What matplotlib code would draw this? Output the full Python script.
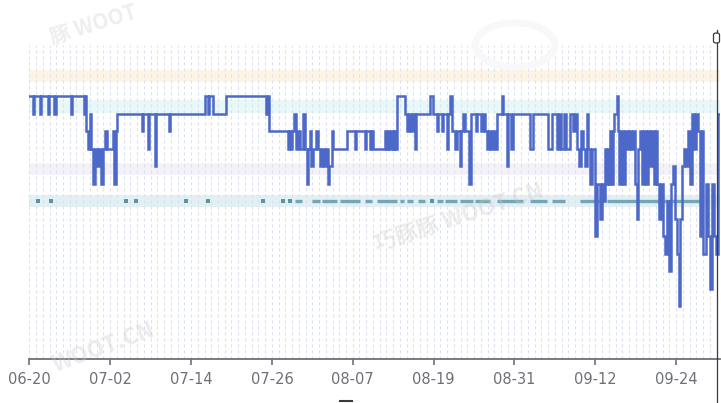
import matplotlib

matplotlib.use("Agg")
import matplotlib.pyplot as plt
from matplotlib.patches import Circle, FancyBboxPatch
from matplotlib.lines import Line2D

# price history: day offset since 06-20 where the price changes, and new level
change_days = [
    0.0, 0.55, 0.77, 1.59, 1.81, 2.73, 2.92, 3.71, 3.92, 6.14, 6.34,
    8.05, 8.3, 8.45, 8.7, 8.95, 9.2, 9.5, 9.75, 10.0, 10.3, 10.7, 10.9, 11.3, 11.6, 12.4, 12.6, 12.9, 13.0,
    16.7, 16.85, 17.6, 17.75, 18.65, 18.8, 20.8, 20.95,
    26.1, 26.5, 26.65, 27.2, 29.2,
    35.2, 35.4, 35.55,
    38.4, 38.6, 38.8, 39.05, 39.3, 39.55, 39.85, 40.15, 40.6, 40.85, 41.15, 41.35, 41.65, 41.85, 42.1,
    42.6, 42.8, 43.1, 43.4, 43.7, 44.0, 44.3, 44.5, 44.9, 45.1,
    47.1, 48.3, 48.5, 49.8, 50.0, 50.5, 50.7, 51.0,
    52.8, 53.0, 53.2, 53.4, 53.7, 53.9, 54.1, 54.3,
    54.6, 55.7, 56.0, 56.3, 56.6, 56.9, 57.2, 57.45,
    59.45, 59.9, 60.5, 60.7, 61.2, 61.45, 61.95, 62.2, 62.4, 62.8, 63.15, 63.45, 63.9, 64.1, 64.35,
    64.65, 65.3, 65.5, 66.3, 66.5, 67.0, 67.3, 67.6,
    67.9, 68.2, 68.5, 68.8, 69.1, 69.4, 70.1, 70.35, 70.9, 71.1, 71.5, 71.75,
    74.3, 74.7, 76.95, 77.55, 78.3, 78.6, 78.9, 79.3, 79.6, 80.2,
    80.7, 81.0, 81.3, 81.6, 81.9, 82.1, 82.4, 82.7, 82.95, 83.2, 83.5,
    83.95, 84.2, 84.7, 85.0, 85.3,
    85.4, 85.6, 85.9, 86.1, 86.2, 86.4, 86.6, 86.8,
    87.2, 87.4, 87.5, 87.8, 88.1, 88.4, 88.7, 89.0, 89.3, 89.6, 89.9, 90.2, 90.4,
    90.6, 90.9, 91.2, 91.5, 91.8, 92.1, 92.4, 92.7, 93.0,
    93.2, 93.4, 93.7, 94.0, 94.3, 94.6, 94.9, 95.2, 95.5, 95.8, 96.1, 96.4, 96.6, 96.8, 97.1, 97.4,
    97.7, 98.0, 98.3, 98.6, 98.9, 99.2, 99.5, 99.8, 100.0, 100.4, 100.7, 101.0, 101.3, 101.6, 101.9, 102.2,
]
price_levels = [
    15, 14, 15, 14, 15, 14, 15, 14, 15, 14, 15,
    14, 15, 13, 12, 14, 12, 10, 12, 11, 12, 10, 12, 13, 12, 13, 10, 13, 14,
    13, 14, 12, 14, 11, 14, 13, 14,
    15, 14, 15, 14, 15,
    14, 15, 13,
    12, 13, 12, 13, 14, 12, 13, 12, 14, 12, 10, 12, 13, 11, 12,
    13, 12, 11, 12, 11, 12, 10, 11, 13, 12,
    13, 12, 13, 12, 13, 12, 13, 12,
    13, 12, 13, 12, 13, 12, 13, 12,
    15, 14, 13, 14, 13, 14, 12, 14,
    15, 14, 13, 14, 13, 14, 12, 14, 15, 13, 12, 13, 11, 13, 14,
    13, 10, 14, 13, 14, 13, 14, 13,
    12, 13, 12, 13, 12, 14, 15, 14, 11, 14, 12, 14,
    12, 14, 12, 14, 12, 14, 12, 14, 12, 14,
    13, 14, 12, 11, 13, 12, 11, 14, 12, 10, 12,
    7, 10, 8, 10, 9,
    12, 10, 12, 10, 13, 10, 13, 14,
    15, 13, 10, 13, 10, 13, 12, 13, 12, 13, 10, 8, 12,
    13, 10, 13, 10, 13, 11, 13, 10, 13,
    10, 8, 10, 7, 6, 9, 5, 10, 11, 8, 6, 3, 8, 11, 12, 11,
    13, 10, 14, 12, 14, 13, 7, 13, 6, 10, 7, 4, 10, 7, 6, 14,
]

# deal markers (single days and runs of days) at the deal price
deal_price = 9.03
deal_points = [1.3, 3.2, 14.35, 15.8, 23.25, 26.5, 34.7, 37.6, 38.7, 59.75]
deal_run_start = [39.4, 41.95, 43.4, 46.1, 49.8, 51.6, 55.0, 56.0, 57.7, 60.5, 61.7, 63.9,
                  66.1, 69.4, 74.3, 77.55, 81.7, 85.7]
deal_run_end = [40.5, 43.1, 45.7, 49.1, 50.85, 54.5, 55.6, 56.9, 58.7, 61.4, 63.45, 65.8,
                68.35, 73.25, 76.8, 79.5, 84.7, 99.5]

# reference price bands (low, high) and their colours
band_low = [15.83, 14.06, 10.51, 8.69]
band_high = [16.51, 14.8, 11.2, 9.37]
band_colors = ["#fdf4e6", "#e8f7f7", "#f4f1f9", "#e3f0f3"]

tick_days = [0, 12, 24, 36, 48, 60, 72, 84, 96]
tick_labels = ["06-20", "07-02", "07-14", "07-26", "08-07", "08-19", "08-31", "09-12", "09-24"]

x_max = 102.5
y_max = 17.94

fig = plt.figure(figsize=(7.21, 4.03), dpi=100)
ax = fig.add_axes([29.3 / 721, 44 / 403, (720 - 29.3) / 721, 314 / 403])
ax.set_xlim(0, x_max)
ax.set_ylim(0, y_max)

for lo, hi, c in zip(band_low, band_high, band_colors):
    ax.axhspan(lo, hi, color=c, lw=0, zorder=0)

# dashed daily grid
ax.vlines(range(0, 103), 0, y_max, colors="#dde3ee", linewidth=0.8,
          linestyles=[(0, (2.9, 2.5))], zorder=1)

ax.hlines([deal_price] * len(deal_run_start), deal_run_start, deal_run_end,
          colors="#5b93a7", linewidth=2.4, alpha=0.8, zorder=2)
ax.scatter(deal_points, [deal_price] * len(deal_points), marker="s", s=7,
           color="#5b93a7", lw=0, zorder=2)

ax.plot(change_days + [x_max], price_levels + [price_levels[-1]], drawstyle="steps-post",
        color="#4c68c8", linewidth=1.8, zorder=3, solid_joinstyle="miter")

for side in ["top", "right", "left"]:
    ax.spines[side].set_visible(False)
ax.spines["bottom"].set_color("#6e7079")
ax.spines["bottom"].set_linewidth(1.3)
ax.set_yticks([])
ax.set_xticks(tick_days)
ax.set_xticklabels(tick_labels)
ax.tick_params(axis="x", colors="#6e7079", length=4.5, width=1.2, pad=5, labelsize=10.5)
for lab in ax.get_xticklabels():
    lab.set_color("#6e7079")

# faint site watermarks
wm_font = ["Noto Sans CJK SC", "DejaVu Sans"]
fig.text(52 / 721, 1 - 44 / 403, "豚 WOOT", family=wm_font, fontsize=15, weight="bold",
         color="#c8c8c8", alpha=0.3, rotation=17, rotation_mode="anchor", ha="left", va="baseline")
fig.text(377 / 721, 1 - 252 / 403, "巧豚豚 WOOT CN", family=wm_font, fontsize=16, weight="bold",
         color="#c8c8c8", alpha=0.35, rotation=18, rotation_mode="anchor", ha="left", va="baseline")
fig.text(56 / 721, 1 - 372 / 403, "WOOT.CN", family=wm_font, fontsize=16, weight="bold",
         color="#c8c8c8", alpha=0.35, rotation=20, rotation_mode="anchor", ha="left", va="baseline")
fig.patches.append(Circle((515 / 721, 1 - 45 / 403), 0.055, transform=fig.transFigure,
                          fill=False, edgecolor="#f8f8f8", linewidth=5, zorder=0))

# zoom-slider edge on the right and its handle, plus the handle stub at the bottom
fig.add_artist(Line2D([716.5 / 721, 716.5 / 721], [0, 1 - 30 / 403], color="#3a3a3a", lw=0.9, zorder=5))
fig.add_artist(FancyBboxPatch((713.5 / 721, 1 - 43 / 403), 6 / 721, 10 / 403,
                              boxstyle="round,pad=0,rounding_size=0.004", transform=fig.transFigure,
                              facecolor="white", edgecolor="#3a3a3a", lw=0.9, zorder=6))
fig.add_artist(Line2D([340 / 721, 352 / 721], [1 - 401 / 403, 1 - 401 / 403], color="#3a3a3a", lw=1.5, zorder=5))

fig.savefig("out.png", dpi=100)
